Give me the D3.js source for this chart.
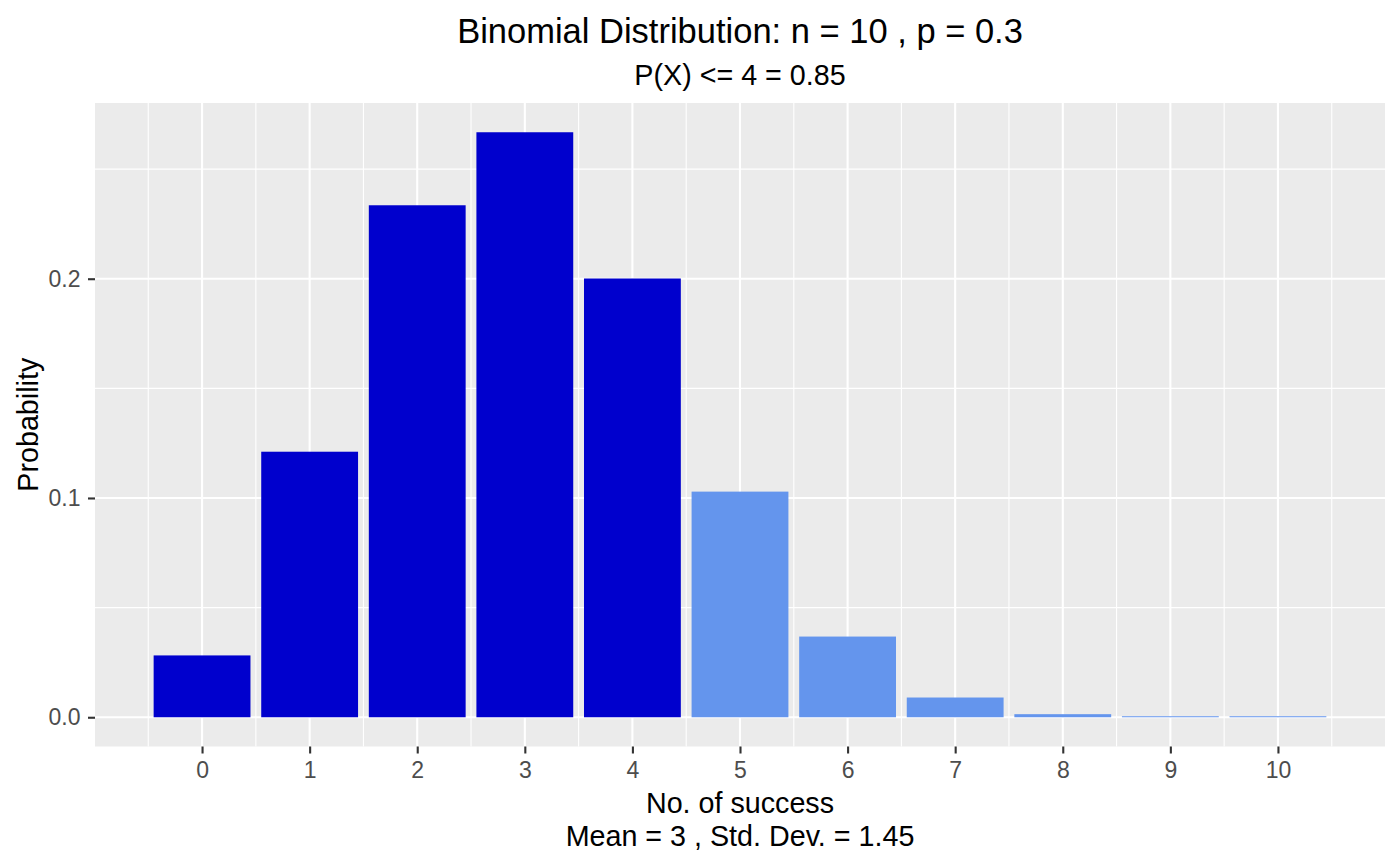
<!DOCTYPE html>
<html>
<head>
<meta charset="utf-8">
<script src="https://cdn.jsdelivr.net/npm/d3@7"></script>
<style>
  body { margin: 0; background: #fff; }
  text { font-family: "Liberation Sans", Arial, sans-serif; }
</style>
</head>
<body>
<div id="chart"></div>
<script>
// ==========================================================================
// Data: binomial n = 10, p = 0.3
// ==========================================================================
var successes = [0, 1, 2, 3, 4, 5, 6, 7, 8, 9, 10];
var probs = [0.0282, 0.1211, 0.2335, 0.2668, 0.2001, 0.1029, 0.0368, 0.0090, 0.0014, 0.00014, 0.000006];
var cutoff = 4;
var yTicks = [0, 0.1, 0.2];
var yMinor = [0.05, 0.15, 0.25];

var titleText = "Binomial Distribution: n = 10 , p = 0.3";
var subtitleText = "P(X) <= 4 = 0.85";
var xLabel = ["No. of success", "Mean = 3 , Std. Dev. = 1.45"];
var yLabel = "Probability";

// ==========================================================================
// Sizes
// ==========================================================================
var W = 1400, H = 866;
var panel = { left: 95, right: 1385, top: 103, bottom: 746.5 };

var svg = d3.select("#chart").append("svg")
  .attr("width", W)
  .attr("height", H);

var barW = 0.9;
var xmin = -barW / 2, xmax = 10 + barW / 2;
var xpad = (xmax - xmin) * 0.05;
var x = d3.scaleLinear()
  .domain([xmin - xpad, xmax + xpad])
  .range([panel.left, panel.right]);

var ymax = d3.max(probs);
var ypad = ymax * 0.05;
var y = d3.scaleLinear()
  .domain([-ypad, ymax + ypad])
  .range([panel.bottom, panel.top]);

// panel background
svg.append("rect")
  .attr("x", panel.left)
  .attr("y", panel.top)
  .attr("width", panel.right - panel.left)
  .attr("height", panel.bottom - panel.top)
  .attr("fill", "#EBEBEB");

var grid = svg.append("g").attr("stroke", "#fff").attr("fill", "none");

// minor grid
grid.selectAll("line.xminor")
  .data(successes.concat([-1]).map(d => d + 0.5))
  .enter().append("line")
  .attr("x1", d => x(d)).attr("x2", d => x(d))
  .attr("y1", panel.top).attr("y2", panel.bottom)
  .attr("stroke-width", 1.1);
grid.selectAll("line.yminor")
  .data(yMinor)
  .enter().append("line")
  .attr("y1", d => y(d)).attr("y2", d => y(d))
  .attr("x1", panel.left).attr("x2", panel.right)
  .attr("stroke-width", 1.1);

// major grid
grid.selectAll("line.xmajor")
  .data(successes)
  .enter().append("line")
  .attr("x1", d => x(d)).attr("x2", d => x(d))
  .attr("y1", panel.top).attr("y2", panel.bottom)
  .attr("stroke-width", 2.1);
grid.selectAll("line.ymajor")
  .data(yTicks)
  .enter().append("line")
  .attr("y1", d => y(d)).attr("y2", d => y(d))
  .attr("x1", panel.left).attr("x2", panel.right)
  .attr("stroke-width", 2.1);

// ==========================================================================
// Bars (tiny ones kept at least 1px so they show, like the original)
// ==========================================================================
svg.append("g")
  .selectAll("rect")
  .data(successes)
  .enter().append("rect")
  .attr("x", (d, i) => x(d - barW / 2))
  .attr("width", (d, i) => x(d + barW / 2) - x(d - barW / 2))
  .attr("y", (d, i) => Math.min(y(probs[i]), y(0) - 1))
  .attr("height", (d, i) => Math.max(1, y(0) - y(probs[i])))
  .attr("fill", d => d <= cutoff ? "#0000CD" : "#6495ED");

// ==========================================================================
// Axes
// ==========================================================================
var xAxis = svg.append("g")
  .attr("transform", "translate(0," + panel.bottom + ")")
  .call(d3.axisBottom(x).tickValues(successes).tickFormat(d3.format("d")).tickSize(7).tickPadding(8.5));
var yAxis = svg.append("g")
  .attr("transform", "translate(" + panel.left + ",0)")
  .call(d3.axisLeft(y).tickValues(yTicks).tickFormat(d3.format(".1f")).tickSize(7).tickPadding(7.5));

[xAxis, yAxis].forEach(function(a) {
  a.attr("font-size", null).attr("font-family", null);
  a.select(".domain").remove();
  a.selectAll(".tick line").attr("stroke", "#333").attr("stroke-width", 2.1);
  a.selectAll(".tick text")
    .attr("fill", "#4D4D4D")
    .style("font-size", "23px");
});

// ==========================================================================
// Titles
// ==========================================================================
var cx = (panel.left + panel.right) / 2;
svg.append("text")
  .attr("x", cx).attr("y", 43)
  .attr("text-anchor", "middle")
  .style("font-size", "34.5px")
  .text(titleText);
svg.append("text")
  .attr("x", cx).attr("y", 85)
  .attr("text-anchor", "middle")
  .style("font-size", "28.7px")
  .text(subtitleText);

svg.append("g").selectAll("text")
  .data(xLabel)
  .enter().append("text")
  .attr("x", cx)
  .attr("y", (d, i) => 813 + i * 33)
  .attr("text-anchor", "middle")
  .style("font-size", "28.7px")
  .text(d => d);

svg.append("text")
  .attr("transform", "translate(38," + ((panel.top + panel.bottom) / 2) + ") rotate(-90)")
  .attr("text-anchor", "middle")
  .style("font-size", "28.7px")
  .text(yLabel);
</script>
</body>
</html>
